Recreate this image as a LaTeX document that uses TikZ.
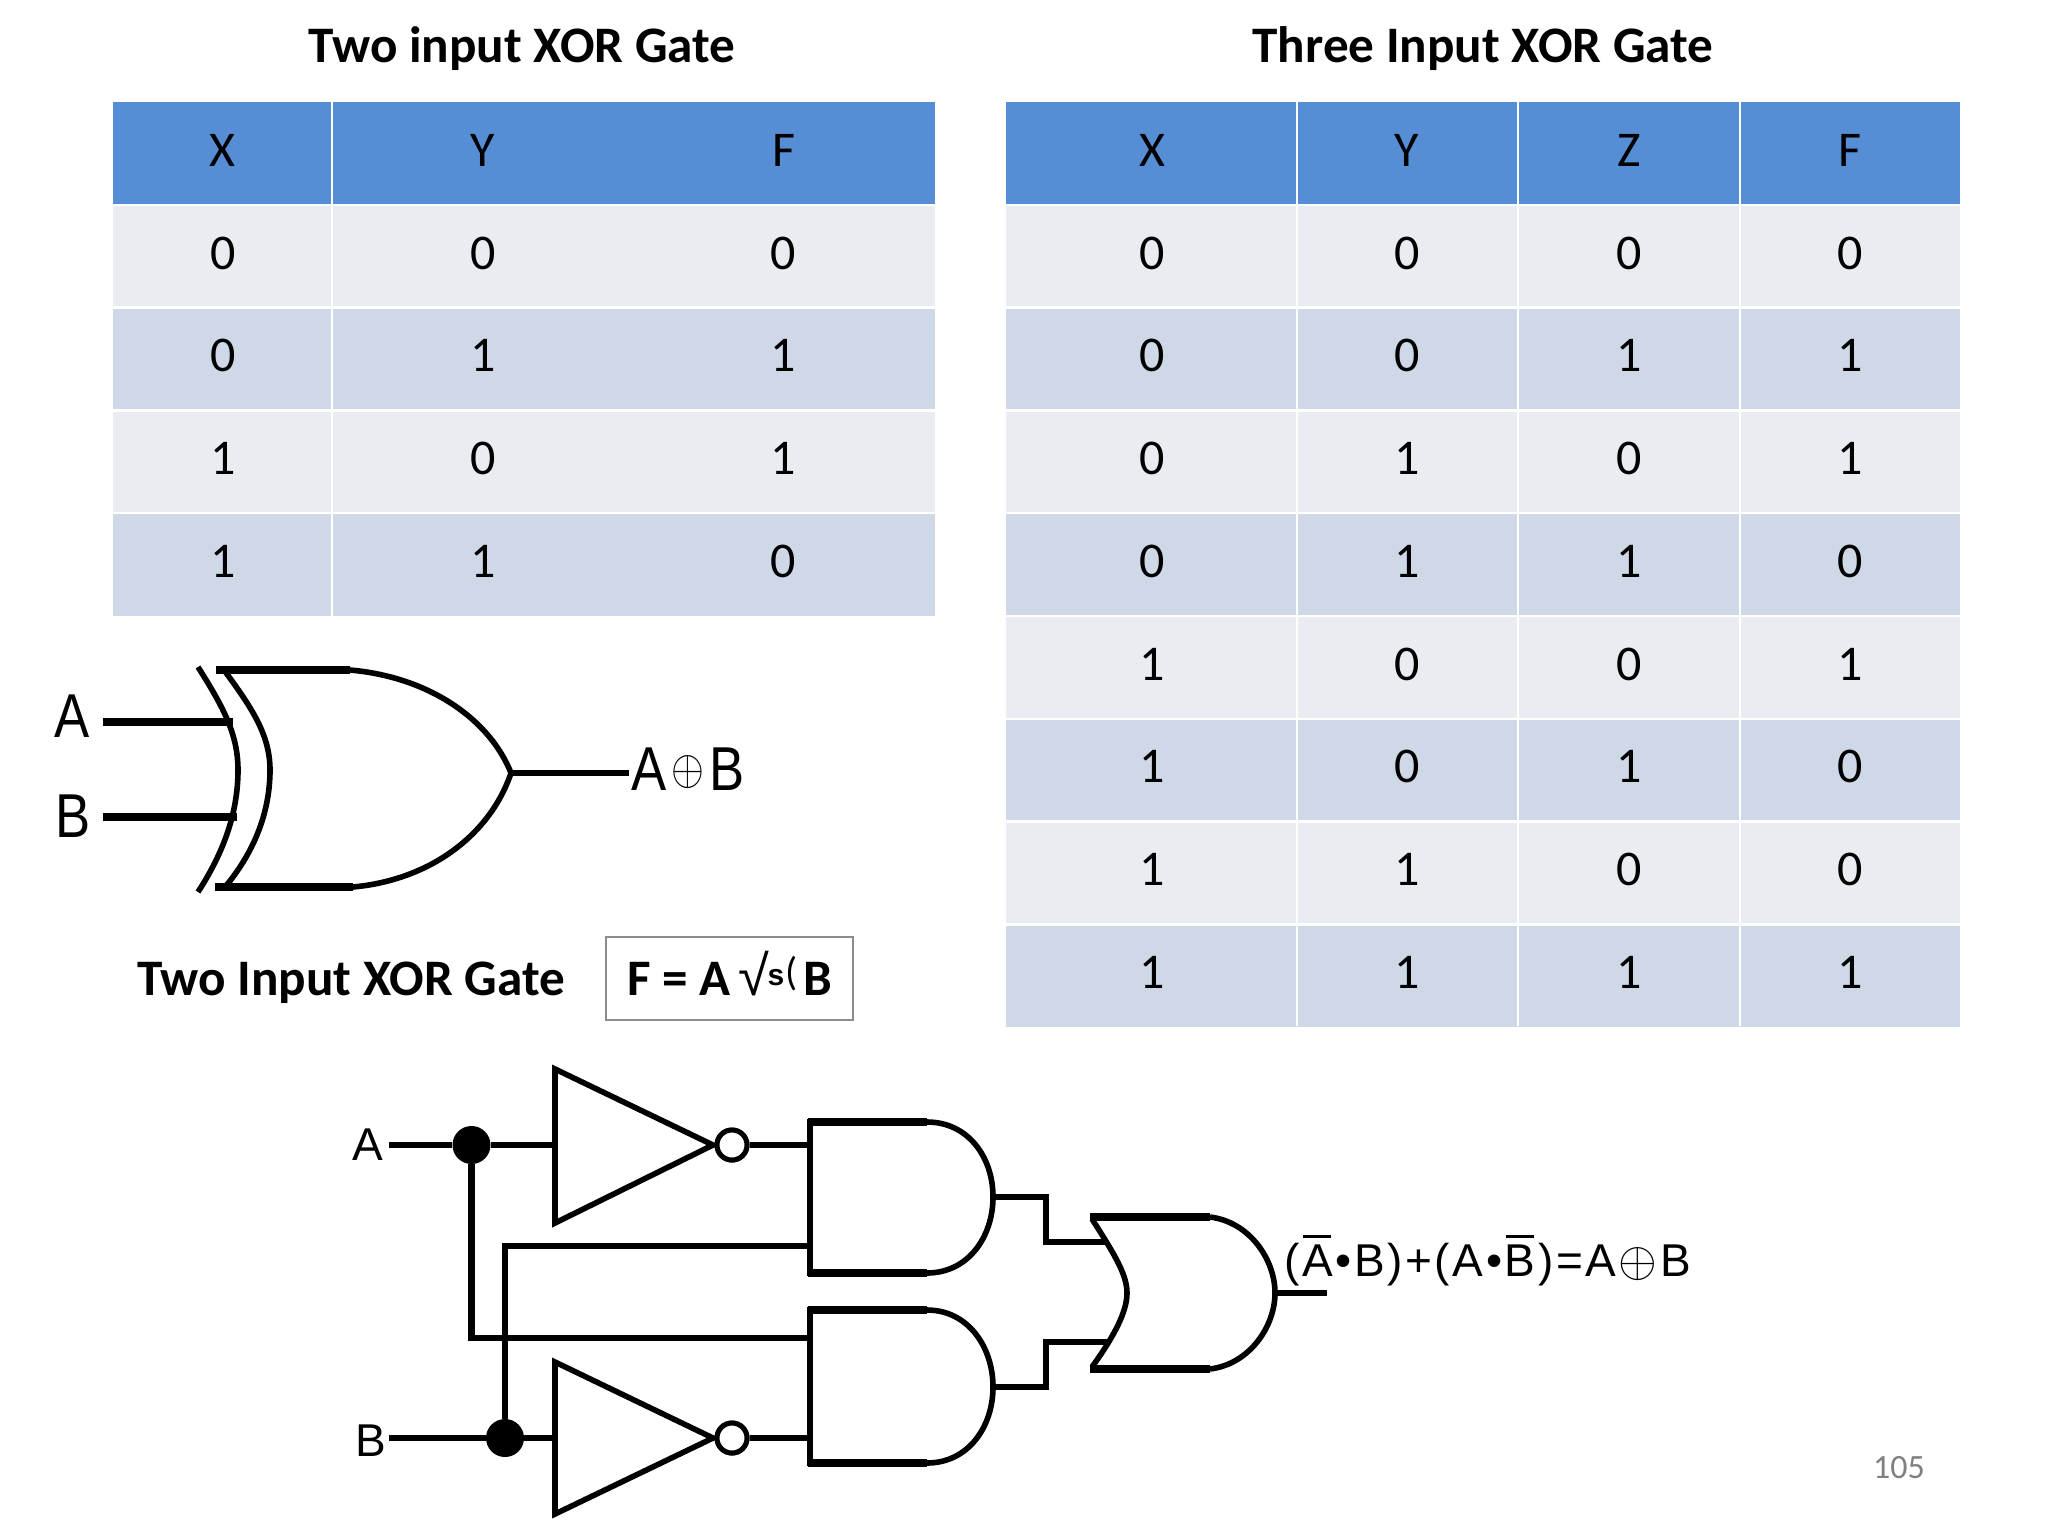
\documentclass[tikz,border=0pt]{standalone}
\usepackage{fontspec}
\setmainfont{Carlito}
\newfontfamily\lib{Liberation Sans}
\definecolor{hdr}{HTML}{558ED5}
\definecolor{rowa}{HTML}{E9ECF1}
\definecolor{rowb}{HTML}{CFD8E7}
\newcommand{\cellsize}{\fontsize{25}{30}\selectfont}
\newcommand{\barred}[1]{\leavevmode\rlap{\kern0.5pt\raisebox{19pt}{\rule{14pt}{1.5pt}}}#1}
\newcommand{\gp}{\kern1.3pt}
\begin{document}
\begin{tikzpicture}[x=0.5pt,y=-0.5pt,
  cell/.style={anchor=base,inner sep=0pt,font=\cellsize,text=black},
  title/.style={anchor=base,inner sep=0pt,font=\fontsize{25.6}{30}\selectfont\bfseries,text=black},
  sep/.style={white,line width=1.2pt},
  wire/.style={black,line width=3.1pt,line join=miter},
  thick edge/.style={black,line width=4.2pt},
  curve/.style={black,line width=2.8pt},
  small/.style={anchor=base,inner sep=0pt,text=black,font=\lib\fontsize{23}{28}\selectfont},
  big/.style={anchor=base,inner sep=0pt,text=black,font=\lib\fontsize{31}{36}\selectfont,xscale=.85},
  dot/.style={circle,fill=black,draw=none,minimum size=19pt,inner sep=0pt},
  bubble/.style={circle,draw=black,fill=white,line width=2.5pt,minimum size=15pt,inner sep=0pt},
]
\useasboundingbox (0,0) rectangle (2048,1536);
\fill[white] (0,0) rectangle (2048,1536);

% ---- titles
\node[title] (t1) at (522,63) {Two input XOR Gate};
\node[title] (t2) at (1483,63) {Three Input XOR Gate};

% ---- table backgrounds
\fill[hdr] (113,102) rectangle (935,205);
\fill[hdr] (1006,102) rectangle (1960,205);
\foreach \r/\c in {1/rowa,2/rowb,3/rowa,4/rowb}{
  \fill[\c] (113,{102+102.8*\r}) rectangle (935,{102+102.8*(\r+1)});
}
\foreach \r/\c in {1/rowa,2/rowb,3/rowa,4/rowb,5/rowa,6/rowb,7/rowa,8/rowb}{
  \fill[\c] (1006,{102+102.8*\r}) rectangle (1960,{102+102.8*(\r+1)});
}
\foreach \r in {1,2,3,4}{
  \draw[sep] (113,{102+102.8*\r}) -- (935,{102+102.8*\r});
}
\foreach \r in {1,...,8}{
  \draw[sep] (1006,{102+102.8*\r}) -- (1960,{102+102.8*\r});
}
\draw[sep] (332,102) -- (332,616);
\foreach \x in {1297,1518,1740}{
  \draw[sep] (\x,102) -- (\x,1026);
}

% ---- left table text
\foreach \r/\a/\b/\c in {0/X/Y/F,1/0/0/0,2/0/1/1,3/1/0/1,4/1/1/0}{
  \node[cell] (L\r a) at (222.7,{166.5+102.7*\r}) {\a};
  \node[cell] (L\r b) at (483,{166.5+102.7*\r}) {\b};
  \node[cell] (L\r c) at (783.6,{166.5+102.7*\r}) {\c};
}
% ---- right table text
\foreach \r/\a/\b/\c/\d in {0/X/Y/Z/F,1/0/0/0/0,2/0/0/1/1,3/0/1/0/1,4/0/1/1/0,5/1/0/0/1,6/1/0/1/0,7/1/1/0/0,8/1/1/1/1}{
  \node[cell] (R\r a) at (1152,{166.5+102.7*\r}) {\a};
  \node[cell] (R\r b) at (1407,{166.5+102.7*\r}) {\b};
  \node[cell] (R\r c) at (1629,{166.5+102.7*\r}) {\c};
  \node[cell] (R\r d) at (1850,{166.5+102.7*\r}) {\d};
}

% ---- XOR gate
\node[big] (xa) at (72,737) {A};
\node[big] (xb) at (73.5,837) {B};
\node[big,anchor=base west] (xo) at (631,790) {A\kern3pt\raisebox{3pt}{\fontsize{24}{24}\selectfont$\oplus$}\kern3pt B};
\coordinate (xa0) at (103,722);
\coordinate (xa1) at (233,722);
\coordinate (xb0) at (103,817);
\coordinate (xb1) at (237,817);
\coordinate (xtip) at (511,773);
\coordinate (xout) at (629,773);
\draw[line width=4pt] (xa0) -- (xa1);
\draw[line width=4pt] (xb0) -- (xb1);
\draw[line width=3.4pt] (xtip) -- (xout);
\draw[curve] (198,667) .. controls (224,708) and (238,735) .. (238,770) .. controls (238,815) and (222,855) .. (198,892);
\draw[curve] (224,670) .. controls (252,708) and (270,735) .. (270,770) .. controls (270,815) and (252,855) .. (225,887);
\draw[thick edge] (216,670) -- (350,670);
\draw[thick edge] (215,887) -- (353,887);
\draw[curve] (350,670) .. controls (430,677) and (490,720) .. (xtip) .. controls (490,835) and (430,880) .. (353,887);

% ---- equation row
\node[anchor=base,inner sep=0pt,font=\fontsize{25.6}{28}\selectfont\bfseries] (lab) at (351,995) {Two Input XOR Gate};
\draw[draw=black!45,line width=.6pt] (606,937) rectangle (853,1020);
\node[anchor=base,inner sep=0pt,font=\fontsize{25.6}{28}\selectfont\bfseries] (eq) at (730,995) {F = A\kern4pt{\lib\fontsize{28}{28}\selectfont\mdseries√}\kern-1pt\raisebox{5pt}{\lib\bfseries\fontsize{15}{15}\selectfont s}\kern0.5pt\raisebox{5pt}{\fontsize{20}{20}\selectfont\mdseries(}\kern3pt B};

% ---- bottom circuit coordinates
\node[small] (ca) at (368,1160) {A};
\node[small] (cb) at (371,1456) {B};
\coordinate (a0) at (389,1145);
\coordinate (b0) at (389,1438);
\node[dot] (ja) at (471.5,1145) {};
\node[dot] (jb) at (505,1438) {};
\coordinate (i1) at (555,1145);
\coordinate (i2) at (555,1438);
\node[bubble] (n1) at (732,1145) {};
\node[bubble] (n2) at (732,1438) {};
\coordinate (and1a) at (810,1145);
\coordinate (and1b) at (810,1246);
\coordinate (and2a) at (810,1338);
\coordinate (and2b) at (810,1438);
\coordinate (and1o) at (993,1197);
\coordinate (and2o) at (993,1387);
\coordinate (or1) at (1107,1242);
\coordinate (or2) at (1107,1342);
\coordinate (oro) at (1275,1293);
\coordinate (oroe) at (1327,1293);

% ---- wires
\draw[wire] (a0) -- (ja) -- (i1);
\draw[wire] (b0) -- (jb) -- (i2);
\draw[wire] (n1) -- (and1a);
\draw[wire] (n2) -- (and2b);
\draw[wire] (ja) |- (and2a);
\draw[wire] (jb) |- (and1b);
\draw[wire] (and1o) -- (1046,1197) -- (1046,1242) -- (or1);
\draw[wire] (and2o) -- (1046,1387) -- (1046,1342) -- (or2);
\draw[wire] (oro) -- (oroe);

% ---- inverters
\draw[curve,line join=miter,fill=white] (i1 |- 0,1069) -- (713,1145) -- (i1 |- 0,1223) -- cycle;
\draw[curve,line join=miter,fill=white] (i2 |- 0,1362) -- (713,1438) -- (i2 |- 0,1514) -- cycle;
\node[bubble] at (n1) {};
\node[bubble] at (n2) {};

% ---- AND gates
\draw[curve,fill=white] (927,1122) -- (810,1122) -- (810,1273) -- (927,1273) .. controls (968,1273) and (993,1237) .. (and1o) .. controls (993,1157) and (968,1122) .. cycle;
\draw[curve,fill=white] (927,1310) -- (810,1310) -- (810,1463) -- (927,1463) .. controls (968,1463) and (993,1427) .. (and2o) .. controls (993,1347) and (968,1310) .. cycle;
\draw[line width=3.6pt] (808,1122) -- (927,1122);
\draw[line width=3.6pt] (808,1273) -- (927,1273);
\draw[line width=3.6pt] (808,1310) -- (927,1310);
\draw[line width=3.6pt] (808,1463) -- (927,1463);

% ---- OR gate
\draw[curve] (1092,1219) .. controls (1115,1255) and (1127,1275) .. (1127,1293) .. controls (1127,1311) and (1115,1335) .. (1092,1367);
\draw[curve] (1210,1217) .. controls (1250,1222) and (oro |- 0,1260) .. (oro) .. controls (oro |- 0,1326) and (1250,1364) .. (1210,1369);
\draw[thick edge] (1090,1217) -- (1210,1217);
\draw[thick edge] (1090,1369) -- (1210,1369);

% ---- output formula
\node[small,anchor=base west] (f) at (1284,1276) {(\gp\barred{A}\gp\textbullet\gp B\gp)\gp+\gp(\gp A\gp\textbullet\gp\barred{B}\gp)\gp=\gp A\gp\raisebox{0pt}{\fontsize{23}{23}\selectfont$\oplus$}\gp B};

% ---- page number
\node[anchor=base,inner sep=0pt,font=\fontsize{17}{20}\selectfont,text=black!50] (pg) at (1899,1478) {105};
\end{tikzpicture}
\end{document}
